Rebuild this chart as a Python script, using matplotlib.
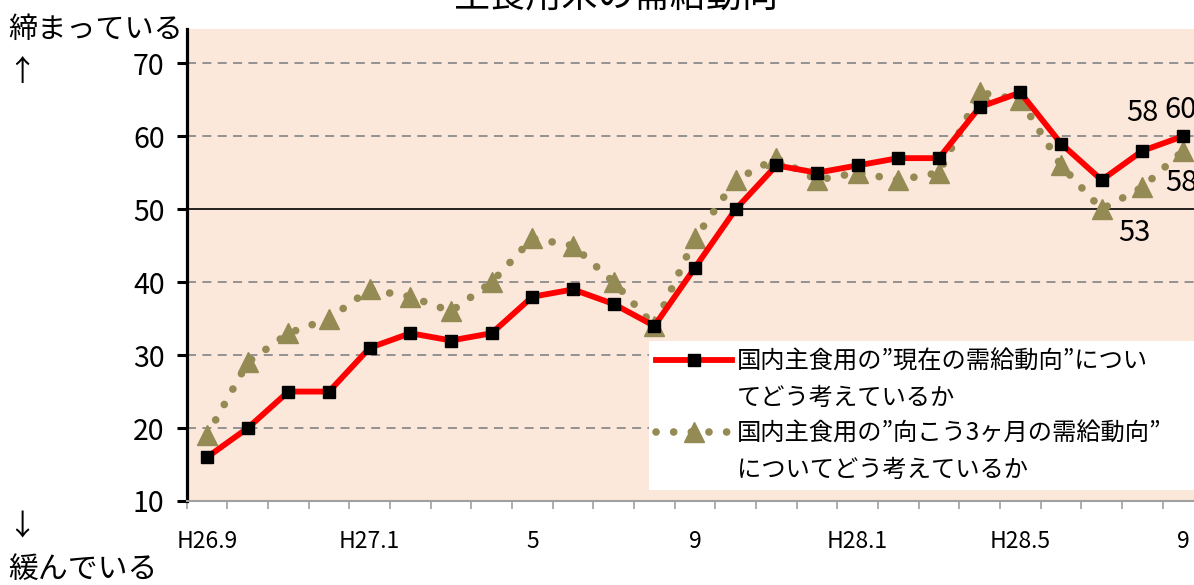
"""
主食用米の需給動向（DI）の折れ線グラフ
"""
import numpy as np
import matplotlib
matplotlib.use("Agg")
import matplotlib.pyplot as plt
from matplotlib.lines import Line2D

plt.rcParams["font.family"] = ["Noto Sans CJK JP", "DejaVu Sans"]

# データ（H26.9 〜 H28.9 の月次）
months = ["H26.9", "10", "11", "12", "H27.1", "2", "3", "4", "5", "6", "7", "8",
          "9", "10", "11", "12", "H28.1", "2", "3", "4", "H28.5", "6", "7", "8", "9"]
tick_labels = {0: "H26.9", 4: "H27.1", 8: "5", 12: "9", 16: "H28.1", 20: "H28.5", 24: "9"}
current = [16, 20, 25, 25, 31, 33, 32, 33, 38, 39, 37, 34, 42,
           50, 56, 55, 56, 57, 57, 64, 66, 59, 54, 58, 60]
outlook = [19, 29, 33, 35, 39, 38, 36, 40, 46, 45, 40, 34, 46,
           54, 57, 54, 55, 54, 55, 66, 65, 56, 50, 53, 58]
label_current = "国内主食用の”現在の需給動向”につい"
label_current2 = "てどう考えているか"
label_outlook = "国内主食用の”向こう3ヶ月の需給動向”"
label_outlook2 = "についてどう考えているか"

RED = "#FF0000"
OLIVE = "#948A54"
PEACH = "#FCE8DA"

x = np.arange(len(months))

fig = plt.figure(figsize=(11.94, 5.85), dpi=100)
ax = fig.add_axes([0.1564, 0.1436, 0.8514, 0.8068])
ax.set_facecolor(PEACH)

# 目盛り線
for v in [20, 30, 40, 60, 70]:
    ax.axhline(v, color="#8C8C8C", lw=1.3, dashes=(5, 3.5), zorder=1)
ax.axhline(50, color="black", lw=1.2, zorder=1)

ax.plot(x, outlook, color=OLIVE, lw=5.5, linestyle=(0, (0.01, 2.3)),
        dash_capstyle="round", marker="^", markersize=15,
        markerfacecolor=OLIVE, markeredgecolor=OLIVE, zorder=3)
ax.plot(x, current, color=RED, lw=4.2, marker="s", markersize=8,
        markerfacecolor="black", markeredgecolor="black", zorder=4)

# 直近のラベル
ax.annotate(str(current[23]), (x[23], current[23]), xytext=(0, 27),
            textcoords="offset points", ha="center", va="center", fontsize=21)
ax.annotate(str(current[24]), (x[24], current[24]), xytext=(-2, 19),
            textcoords="offset points", ha="center", va="center", fontsize=21,
            annotation_clip=False)
ax.annotate(str(outlook[23]), (x[23], outlook[23]), xytext=(-6, -33),
            textcoords="offset points", ha="center", va="center", fontsize=21)
ax.annotate(str(outlook[24]), (x[24], outlook[24]), xytext=(-1, -23),
            textcoords="offset points", ha="center", va="center", fontsize=21,
            annotation_clip=False)

ax.set_xlim(-0.5, len(months) - 0.5)
ax.set_ylim(10, 74.7)
ax.set_yticks(range(10, 71, 10))
ax.tick_params(axis="y", direction="out", length=7, width=2.2, color="black",
               labelsize=20.5, pad=9)
ax.set_xticks(list(tick_labels.keys()))
ax.set_xticklabels(list(tick_labels.values()))
ax.set_xticks(np.arange(-0.5, len(months), 1), minor=True)
ax.tick_params(axis="x", which="major", length=0, labelsize=16.5, pad=21)
ax.tick_params(axis="x", which="minor", direction="out", length=6, width=1.2,
               color="#A0A0A0")

for s in ["top", "right"]:
    ax.spines[s].set_visible(False)
ax.spines["left"].set_linewidth(2.3)
ax.spines["left"].set_color("black")
ax.spines["bottom"].set_linewidth(1.5)
ax.spines["bottom"].set_color("#A0A0A0")

# 凡例（2行目は空のハンドルで折り返し）
blank = Line2D([], [], alpha=0)
h_cur = Line2D([], [], color=RED, lw=4.2, marker="s", markersize=8,
               markerfacecolor="black", markeredgecolor="black")
h_out = Line2D([], [], color=OLIVE, lw=5.5, linestyle=(0, (0.01, 2.3)),
               dash_capstyle="round", marker="^", markersize=15,
               markerfacecolor=OLIVE, markeredgecolor=OLIVE)
leg = ax.legend([h_cur, blank, h_out, blank],
                [label_current, label_current2, label_outlook, label_outlook2],
                loc="upper left", bbox_to_anchor=(0.4548, 0.0297, 0.5452, 0.3093),
                mode="expand", fontsize=17.5, frameon=True, fancybox=False,
                framealpha=1, facecolor="white", edgecolor="none",
                handlelength=3.1, handletextpad=0.2, labelspacing=0.42,
                borderaxespad=0, borderpad=0.3)
leg.set_zorder(5)

# 縦軸の説明
fig.text(8 / 1194, 1 - 30 / 585, "締まっている", fontsize=21, va="center", ha="left")
fig.text(22 / 1194, 1 - 73 / 585, "↑", fontsize=21, va="center", ha="center")
fig.text(22 / 1194, 1 - 527 / 585, "↓", fontsize=21, va="center", ha="center")
fig.text(8 / 1194, 1 - 569 / 585, "緩んでいる", fontsize=21.5, va="center", ha="left")

# タイトル（上が切れている）
fig.text(617 / 1194, 1 - 7 / 585, "主食用米の需給動向", fontsize=26,
         ha="center", va="baseline")

fig.savefig("out.png", dpi=100)
